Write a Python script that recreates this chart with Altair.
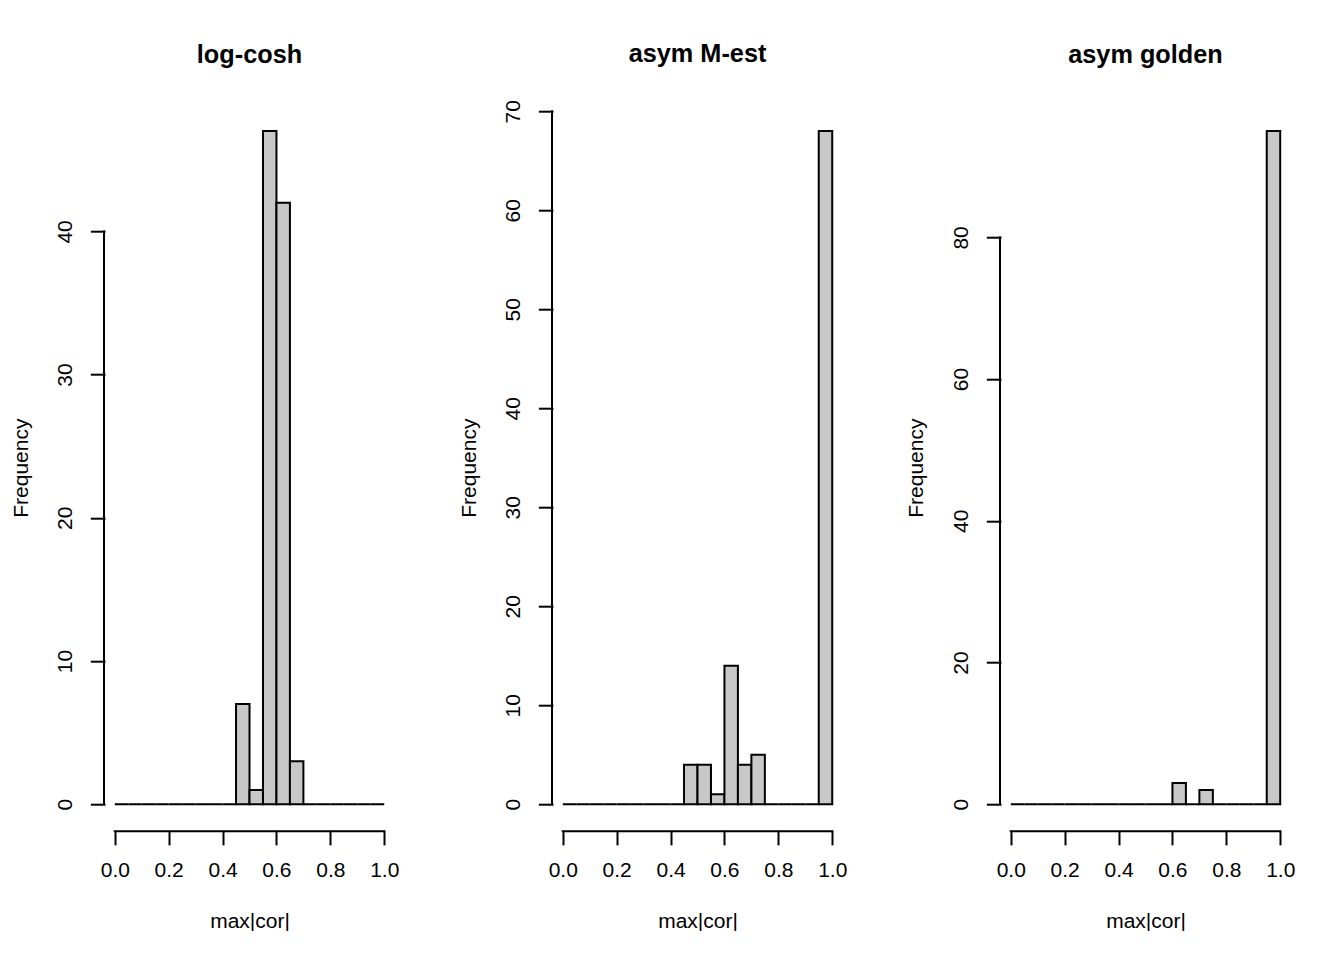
import altair as alt
import pandas as pd

# bin edges (R hist breaks, width 0.05)
bin_lo = [0.00, 0.05, 0.10, 0.15, 0.20, 0.25, 0.30, 0.35, 0.40, 0.45,
          0.50, 0.55, 0.60, 0.65, 0.70, 0.75, 0.80, 0.85, 0.90, 0.95]
bin_hi = [0.05, 0.10, 0.15, 0.20, 0.25, 0.30, 0.35, 0.40, 0.45, 0.50,
          0.55, 0.60, 0.65, 0.70, 0.75, 0.80, 0.85, 0.90, 0.95, 1.00]

# counts per bin
logcosh = [0, 0, 0, 0, 0, 0, 0, 0, 0, 7, 1, 47, 42, 3, 0, 0, 0, 0, 0, 0]
asym_mest = [0, 0, 0, 0, 0, 0, 0, 0, 0, 4, 4, 1, 14, 4, 5, 0, 0, 0, 0, 68]
asym_golden = [0, 0, 0, 0, 0, 0, 0, 0, 0, 0, 0, 0, 3, 0, 2, 0, 0, 0, 0, 95]

titles = ["log-cosh", "asym M-est", "asym golden"]
x_ticks = [0.0, 0.2, 0.4, 0.6, 0.8, 1.0]
y_ticks_1 = [0, 10, 20, 30, 40]
y_ticks_2 = [0, 10, 20, 30, 40, 50, 60, 70]
y_ticks_3 = [0, 20, 40, 60, 80]

FONT = "Liberation Sans"
W, H = 291, 727
TICK = 12.66


def panel(title, counts, yticks, title_offset):
    df = pd.DataFrame({"lo": bin_lo, "hi": bin_hi, "n": counts})
    ymax = max(counts)
    ydom = [-0.04 * ymax, 1.04 * ymax]
    xdom = [-0.04, 1.04]
    xs = alt.Scale(domain=xdom, nice=False, zero=False)
    ys = alt.Scale(domain=ydom, nice=False, zero=False)

    xaxis = alt.Axis(
        values=x_ticks, format=".1f", domain=False, grid=False,
        ticks=True, tickColor="black", tickWidth=2, tickSize=TICK,
        tickCap="square",
        labelFont=FONT, labelFontSize=21, labelColor="black",
        labelPadding=15.7, labelFlush=False, labelOverlap=False,
        labelBaseline="top",
        title="max|cor|", titleFont=FONT, titleFontSize=21,
        titleFontWeight="normal", titleColor="black",
        titleBaseline="alphabetic", titleY=96,
    )
    yaxis = alt.Axis(
        values=yticks, domain=False, grid=False,
        tickColor="black", tickWidth=2, tickSize=TICK, tickCap="square",
        labelFont=FONT, labelFontSize=21, labelColor="black",
        labelAngle=270, labelAlign="center", labelBaseline="alphabetic",
        labelPadding=20.3, labelFlush=False, labelOverlap=False,
        title="Frequency", titleFont=FONT, titleFontSize=21,
        titleFontWeight="normal", titleColor="black",
        titleAngle=270, titleBaseline="alphabetic", titleX=-77,
    )

    bars = alt.Chart(df).mark_rect(
        fill="#c8c8c8", stroke="black", strokeWidth=2
    ).encode(
        x=alt.X("lo:Q", scale=xs, axis=xaxis),
        x2="hi:Q",
        y=alt.Y("n:Q", scale=ys, axis=yaxis),
        y2=alt.datum(0),
    )

    yline = alt.Chart(pd.DataFrame({"lo": [xdom[0]], "n": [yticks[0]], "b": [yticks[-1]]})).mark_rule(
        color="black", strokeWidth=2, strokeCap="square"
    ).encode(
        x=alt.X("lo:Q", scale=xs, axis=xaxis),
        y=alt.Y("n:Q", scale=ys, axis=yaxis),
        y2="b:Q",
    )

    xline = alt.Chart(pd.DataFrame({"lo": [x_ticks[0]], "hi": [x_ticks[-1]], "n": [ydom[0]]})).mark_rule(
        color="black", strokeWidth=2, strokeCap="square"
    ).encode(
        x=alt.X("lo:Q", scale=xs, axis=xaxis),
        x2="hi:Q",
        y=alt.Y("n:Q", scale=ys, axis=yaxis),
    )

    return alt.layer(bars, yline, xline).properties(
        width=W, height=H,
        title=alt.TitleParams(
            text=title, font=FONT, fontSize=25.3, fontWeight="bold",
            color="black", anchor="middle", baseline="alphabetic",
            offset=title_offset,
        ),
    )


chart = alt.hconcat(
    panel(titles[0], logcosh, y_ticks_1, 16.3),
    panel(titles[1], asym_mest, y_ticks_2, 12.5),
    panel(titles[2], asym_golden, y_ticks_3, 16.3),
    spacing=157,
    bounds="flush",
).properties(
    padding={"left": 2, "top": 33.2, "right": 0, "bottom": 0},
    background="white",
).configure_view(stroke=None)

chart.save("out.html", embed_options={"renderer": "svg", "actions": False})
